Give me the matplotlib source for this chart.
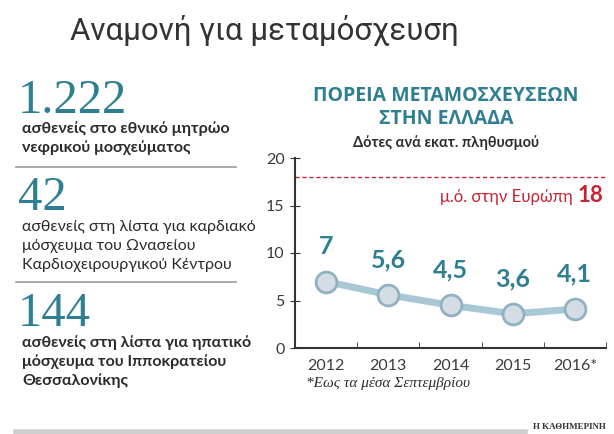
import matplotlib
matplotlib.use('Agg')
import matplotlib.pyplot as plt
from matplotlib.ticker import FixedLocator
from matplotlib.lines import Line2D

# data
years = ['2012', '2013', '2014', '2015', '2016*']
donors = [7, 5.6, 4.5, 3.6, 4.1]
donor_labels = ['7', '5,6', '4,5', '3,6', '4,1']
europe_avg = 18
yticks = [0, 5, 10, 15, 20]

stats = ['1.222', '42', '144']
stat_texts = [['ασθενείς στο εθνικό μητρώο', 'νεφρικού μοσχεύματος'],
              ['ασθενείς στη λίστα για καρδιακό', 'μόσχευμα του Ωνασείου', 'Καρδιοχειρουργικού Κέντρου'],
              ['ασθενείς στη λίστα για ηπατικό', 'μόσχευμα του Ιπποκρατείου', 'Θεσσαλονίκης']]
stat_bold = [True, False, True]

TEAL = '#2f7f92'
RED = '#c62333'
DARK = '#2b2b2b'
SANS = ['Lato', 'DejaVu Sans']
SERIF = ['Liberation Serif', 'DejaVu Serif']

fig = plt.figure(figsize=(6.14, 4.34), dpi=100)
fig.patch.set_facecolor('white')

W, H = 614.0, 434.0
def fx(px): return px / W
def fy(py): return 1 - py / H

# main title
fig.text(fx(264), fy(31), 'Αναμονή για μεταμόσχευση', ha='center', va='center',
         fontsize=22.5, color='#333333', family=['Roboto', 'DejaVu Sans'])

# left column
num_y = [101, 198, 314]
txt_y = [[129, 148], [227, 246, 265], [343, 362, 381]]
for i in range(3):
    fig.text(fx(18), fy(num_y[i]), stats[i], ha='left', va='center', fontsize=35,
             color=TEAL, family=SERIF)
    for j, line in enumerate(stat_texts[i]):
        fig.text(fx(22), fy(txt_y[i][j]), line, ha='left', va='center', fontsize=11.5,
                 color=DARK, family=SANS,
                 fontweight='bold' if stat_bold[i] else 'normal')

for yy in [167, 282]:
    fig.add_artist(Line2D([fx(16), fx(236)], [fy(yy), fy(yy)], color='#9a9a9a', lw=1.2))
fig.add_artist(Line2D([fx(16), fx(525)], [fy(432), fy(432)], color='#cfcfcf', lw=4))
fig.text(fx(606), fy(427), 'Η ΚΑΘΗΜΕΡΙΝΗ', ha='right', va='center', fontsize=6.5,
         color='#333333', family=SERIF, fontweight='bold')

# chart titles
fig.text(fx(446), fy(96), 'ΠΟΡΕΙΑ ΜΕΤΑΜΟΣΧΕΥΣΕΩΝ', ha='center', va='center',
         fontsize=14, color=TEAL, fontweight='bold', family=['Open Sans', 'DejaVu Sans'])
fig.text(fx(446), fy(119), 'ΣΤΗΝ ΕΛΛΑΔΑ', ha='center', va='center',
         fontsize=14, color=TEAL, fontweight='bold', family=['Open Sans', 'DejaVu Sans'])
fig.text(fx(446), fy(143), 'Δότες ανά εκατ. πληθυσμού', ha='center', va='center',
         fontsize=10.5, color=DARK, fontweight='bold', family=SANS)

# line chart
ax = fig.add_axes([fx(295), fy(348), (606 - 295) / W, (348 - 158) / H])
x = list(range(len(years)))
ax.plot(x, donors, color='#a9c8d6', lw=5, zorder=2)
ax.plot(x, donors, ls='none', marker='o', ms=15, mfc='#d4dde4', mec='#8fb1c2', mew=2, zorder=3)
for xi, v, lab in zip(x, donors, donor_labels):
    ax.annotate(lab, (xi, v), xytext=(0, 17), textcoords='offset points', ha='center',
                va='bottom', fontsize=18, fontweight='bold', color=TEAL, family=SANS)

ax.axhline(europe_avg, color=RED, lw=1, ls=(0, (3, 2)), zorder=1)
ax.annotate('18', (4.5, 16), xytext=(-2, 0), textcoords='offset points', ha='right',
            va='center', fontsize=16, fontweight='bold', color=RED, family=SANS)
ax.annotate('μ.ό. στην Ευρώπη', (4.5, 16), xytext=(-24, -1), textcoords='offset points',
            ha='right', va='center', fontsize=12, color=RED, family=SANS)

ax.set_xlim(-0.5, 4.5)
ax.set_ylim(0, 20)
ax.set_yticks(yticks)
ax.set_xticks(x)
ax.set_xticklabels(years)
ax.xaxis.set_minor_locator(FixedLocator([0.5, 1.5, 2.5, 3.5, 4.5]))
ax.tick_params(axis='x', which='major', length=0, pad=8, labelsize=11.5, labelcolor='#3a3a3a')
ax.tick_params(axis='x', which='minor', length=4, direction='in', color='#333333')
ax.tick_params(axis='y', length=7, direction='inout', labelsize=11.5, labelcolor='#3a3a3a',
               color='#333333', pad=4)
for lab in ax.get_xticklabels() + ax.get_yticklabels():
    lab.set_family(SANS)
for s in ['top', 'right']:
    ax.spines[s].set_visible(False)
ax.spines['left'].set_color('#333333')
ax.spines['bottom'].set_color('#333333')
ax.spines['left'].set_linewidth(1.5)
ax.spines['bottom'].set_linewidth(1.5)
ax.set_facecolor('none')

fig.text(fx(306), fy(383), '*Εως τα μέσα Σεπτεμβρίου', ha='left', va='center',
         fontsize=11, style='italic', color=DARK, family=SERIF)

fig.savefig('out.png', dpi=100)
